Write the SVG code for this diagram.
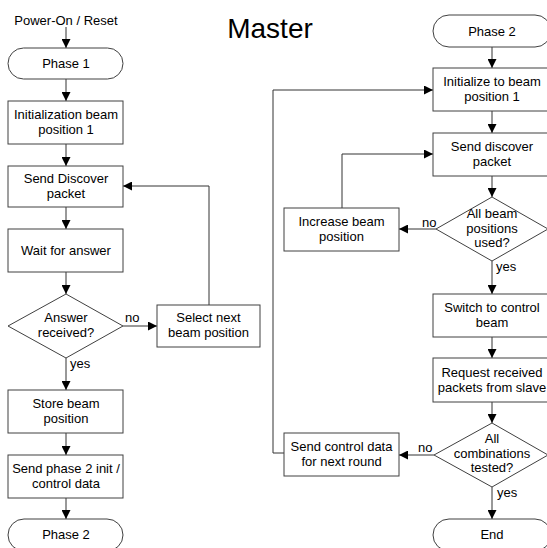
<svg xmlns="http://www.w3.org/2000/svg" width="547" height="548" viewBox="0 0 547 548">
<style>
.b{fill:#fff;stroke:#404040;stroke-width:1}
.c{fill:none;stroke:#333;stroke-width:1}
text{font-family:"Liberation Sans",Arial,sans-serif;font-size:13px;fill:#000;text-anchor:middle}
.l{text-anchor:start}
</style>
<defs>
<marker id="a" viewBox="0 0 10 10" refX="10" refY="5" markerWidth="9" markerHeight="9" markerUnits="userSpaceOnUse" orient="auto">
<path d="M0,0 L10,5 L0,10 z" fill="#000"/>
</marker>
</defs>
<rect width="547" height="548" fill="#fff"/>
<text x="270" y="38" style="font-size:28px">Master</text>
<g id="connectors">
<line class="c" x1="66" y1="27" x2="66" y2="48" marker-end="url(#a)"/>
<line class="c" x1="66" y1="79" x2="66" y2="101" marker-end="url(#a)"/>
<line class="c" x1="66" y1="144" x2="66" y2="166" marker-end="url(#a)"/>
<line class="c" x1="66" y1="207" x2="66" y2="229" marker-end="url(#a)"/>
<line class="c" x1="66" y1="272" x2="66" y2="294" marker-end="url(#a)"/>
<line class="c" x1="66" y1="358" x2="66" y2="390" marker-end="url(#a)"/>
<line class="c" x1="66" y1="433" x2="66" y2="455" marker-end="url(#a)"/>
<line class="c" x1="66" y1="498" x2="66" y2="519" marker-end="url(#a)"/>
<line class="c" x1="123" y1="326" x2="157" y2="326" marker-end="url(#a)"/>
<polyline class="c" points="209,305 209,186 123,186" marker-end="url(#a)"/>
<line class="c" x1="492" y1="47" x2="492" y2="68" marker-end="url(#a)"/>
<line class="c" x1="492" y1="111" x2="492" y2="133" marker-end="url(#a)"/>
<line class="c" x1="492" y1="176" x2="492" y2="197" marker-end="url(#a)"/>
<line class="c" x1="492" y1="261" x2="492" y2="294" marker-end="url(#a)"/>
<line class="c" x1="492" y1="337" x2="492" y2="358" marker-end="url(#a)"/>
<line class="c" x1="492" y1="402" x2="492" y2="423" marker-end="url(#a)"/>
<line class="c" x1="492" y1="487" x2="492" y2="519" marker-end="url(#a)"/>
<line class="c" x1="436" y1="229" x2="399" y2="229" marker-end="url(#a)"/>
<polyline class="c" points="342,208 342,154 433,154" marker-end="url(#a)"/>
<line class="c" x1="434" y1="455" x2="399" y2="455" marker-end="url(#a)"/>
<polyline class="c" points="284,453 273,453 273,90 433,90" marker-end="url(#a)"/>
<text x="66" y="25">Power-On / Reset</text>
<text class="l" x="125" y="322">no</text>
<text class="l" x="70" y="368">yes</text>
<text class="l" x="422" y="227">no</text>
<text class="l" x="496" y="271">yes</text>
<text class="l" x="418" y="452">no</text>
<text class="l" x="497" y="497">yes</text>
</g>
<g id="phase1"><rect class="b" x="8" y="48" width="115" height="31" rx="15.5"/><text x="66" y="68">Phase 1</text></g>
<g id="init1"><rect class="b" x="8" y="101" width="115" height="43"/><text x="66" y="119">Initialization beam</text><text x="66" y="134">position 1</text></g>
<g id="discover1"><rect class="b" x="8" y="166" width="115" height="41"/><text x="66" y="183">Send Discover</text><text x="66" y="198">packet</text></g>
<g id="wait"><rect class="b" x="8" y="229" width="115" height="43"/><text x="66" y="255">Wait for answer</text></g>
<g id="answer"><polygon class="b" points="66,294 123,326 66,358 8,326"/><text x="66" y="322">Answer</text><text x="66" y="337">received?</text></g>
<g id="select"><rect class="b" x="157" y="305" width="103" height="42"/><text x="208.5" y="322">Select next</text><text x="208.5" y="337">beam position</text></g>
<g id="store"><rect class="b" x="8" y="390" width="115" height="43"/><text x="66" y="408">Store beam</text><text x="66" y="423">position</text></g>
<g id="sendphase2"><rect class="b" x="8" y="455" width="115" height="43"/><text x="66" y="473">Send phase 2 init /</text><text x="66" y="488">control data</text></g>
<g id="phase2a"><rect class="b" x="8" y="519" width="115" height="32" rx="16"/><text x="66" y="539">Phase 2</text></g>
<g id="phase2b"><rect class="b" x="433" y="15" width="118" height="32" rx="16"/><text x="492" y="35.5">Phase 2</text></g>
<g id="init2"><rect class="b" x="433" y="68" width="118" height="43"/><text x="492" y="86">Initialize to beam</text><text x="492" y="101">position 1</text></g>
<g id="discover2"><rect class="b" x="433" y="133" width="118" height="43"/><text x="492" y="151">Send discover</text><text x="492" y="166">packet</text></g>
<g id="allbeam"><polygon class="b" points="492,197 548,229 492,261 436,229"/><text x="492" y="218">All beam</text><text x="492" y="233">positions</text><text x="492" y="247">used?</text></g>
<g id="increase"><rect class="b" x="284" y="208" width="115" height="43"/><text x="341.5" y="226">Increase beam</text><text x="341.5" y="241">position</text></g>
<g id="switch"><rect class="b" x="433" y="294" width="118" height="43"/><text x="492" y="312">Switch to control</text><text x="492" y="327">beam</text></g>
<g id="request"><rect class="b" x="433" y="358" width="118" height="44"/><text x="492" y="377">Request received</text><text x="492" y="392">packets from slave</text></g>
<g id="allcomb"><polygon class="b" points="492,423 548,455 492,487 434,455"/><text x="492" y="443">All</text><text x="492" y="458">combinations</text><text x="492" y="472">tested?</text></g>
<g id="sendcontrol"><rect class="b" x="284" y="433" width="115" height="43"/><text x="341.5" y="451">Send control data</text><text x="341.5" y="466">for next round</text></g>
<g id="end"><rect class="b" x="433" y="519" width="118" height="32" rx="16"/><text x="492" y="539">End</text></g>
</svg>
